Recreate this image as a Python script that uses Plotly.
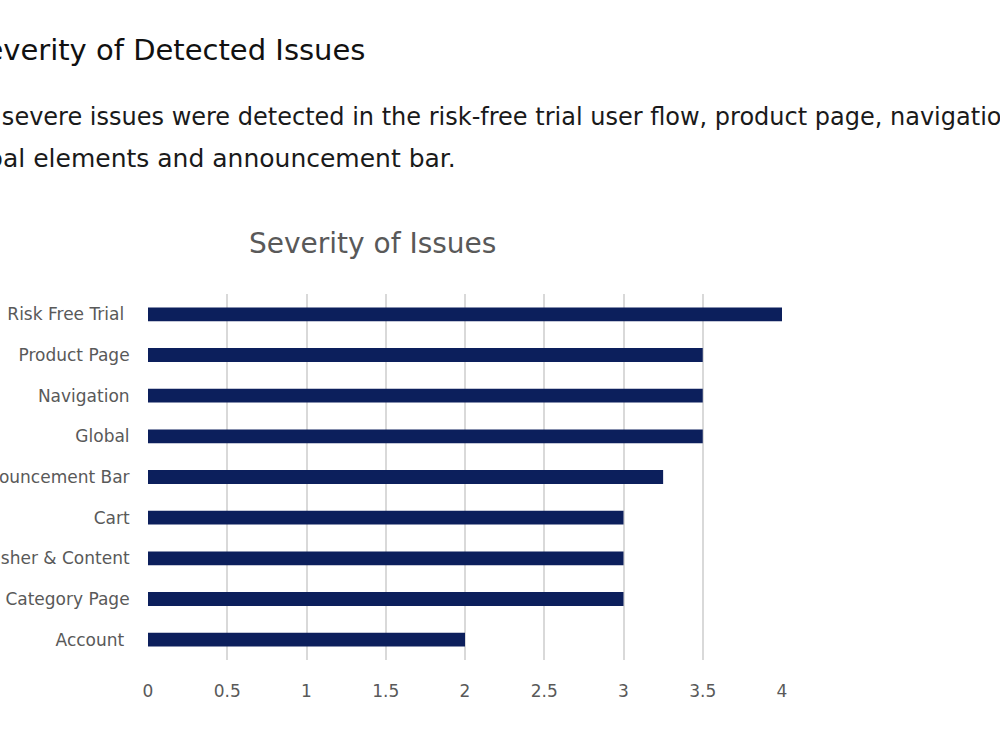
import plotly.graph_objects as go

categories = ["Risk Free Trial\u00a0", "Product Page", "Navigation", "Global",
              "Announcement Bar", "Cart", "Publisher & Content", "Category Page", "Account\u00a0"]
severity = [4, 3.5, 3.5, 3.5, 3.25, 3, 3, 3, 2]
x_ticks = [0, 0.5, 1, 1.5, 2, 2.5, 3, 3.5, 4]

heading = "Severity of Detected Issues"
body_line1 = "The most severe issues were detected in the risk-free trial user flow, product page, navigation,"
body_line2 = "global elements and announcement bar."
chart_title = "Severity of Issues"

FONT = "DejaVu Sans"
L, R, T, B = 148, 782, 294, 660
W, H = 1000, 750

def px(x):
    return (x - L) / (R - L)

def py(y):
    return (B - y) / (B - T)

fig = go.Figure(go.Bar(
    x=severity, y=categories, orientation="h",
    marker=dict(color="#0c1f5c", line=dict(width=0)),
    width=0.34, hoverinfo="x+y"))

fig.update_layout(
    width=W, height=H,
    margin=dict(l=L, r=W - R, t=T, b=H - B, autoexpand=False),
    plot_bgcolor="white", paper_bgcolor="white",
    font=dict(family=FONT, color="#595959"),
    showlegend=False,
    xaxis=dict(range=[0, 4], tickvals=x_ticks, ticktext=[f"{v:g}" for v in x_ticks],
               showgrid=True, gridcolor="#d9d9d9", gridwidth=1.5,
               zeroline=False, showline=False,
               ticks="outside", ticklen=16, tickcolor="rgba(0,0,0,0)",
               tickfont=dict(size=17, color="#595959"), automargin=False),
    yaxis=dict(autorange="reversed", showgrid=False, zeroline=False, showline=False,
               ticks="outside", ticklen=14, tickcolor="rgba(0,0,0,0)",
               tickfont=dict(size=17, color="#595959"), automargin=False),
    annotations=[
        dict(text=heading, xref="paper", yref="paper", x=px(367), y=py(50),
             xanchor="right", yanchor="middle", showarrow=False,
             font=dict(size=29, color="#111111", family=FONT)),
        dict(text=body_line1, xref="paper", yref="paper", x=px(-121), y=py(117),
             xanchor="left", yanchor="middle", showarrow=False,
             font=dict(size=24, color="#1a1a1a", family=FONT)),
        dict(text=body_line2, xref="paper", yref="paper", x=px(458), y=py(158),
             xanchor="right", yanchor="middle", showarrow=False,
             font=dict(size=25, color="#1a1a1a", family=FONT)),
        dict(text=chart_title, xref="paper", yref="paper", x=px(372), y=py(243),
             xanchor="center", yanchor="middle", showarrow=False,
             font=dict(size=28, color="#595959", family=FONT)),
    ],
)

fig.write_html("out.html")
